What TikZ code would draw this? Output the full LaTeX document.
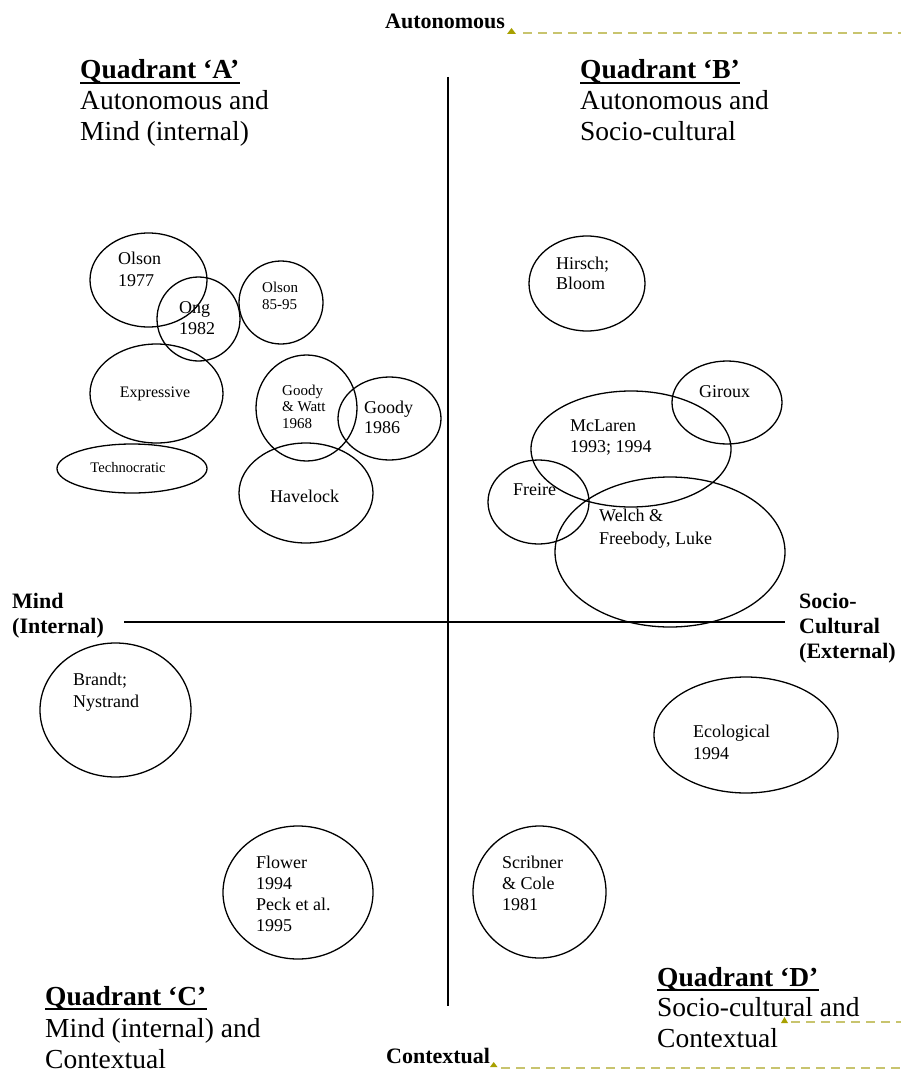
\documentclass[tikz,border=0pt]{standalone}
\usepackage{fontspec}
\setmainfont{Liberation Serif}
\usetikzlibrary{shapes.geometric}
\newcommand\tl[1]{\begin{tabular}[t]{@{}l@{}}#1\end{tabular}}
\newcommand\fs[2]{\fontsize{#1}{#2}\selectfont}
\definecolor{dashcol}{RGB}{200,196,110}
\definecolor{markcol}{RGB}{168,160,0}
\begin{document}
\begin{tikzpicture}[x=1pt,y=-1pt,
  ell/.style={draw=black,line width=1.3pt,ellipse,inner sep=0pt},
  lab/.style={inner sep=0pt,anchor=base west,font=\fs{18}{21}},
  axlab/.style={inner sep=0pt,anchor=base west,font=\fs{22}{25}\bfseries},
  qtitle/.style={inner sep=0pt,anchor=base west,font=\fs{27.5}{31}\bfseries},
  qtext/.style={inner sep=0pt,anchor=base west,font=\fs{27.5}{31}},
  axis/.style={line width=1.4pt},
  cmt/.style={draw=dashcol,line width=1.8pt,dash pattern=on 9pt off 6pt},
  cmark/.style={fill=markcol,draw=none}]
\useasboundingbox (0,0) rectangle (901,1070);

% axes
\coordinate (vtop) at (448,77);
\coordinate (vbot) at (448,1006);
\coordinate (hl) at (124,622);
\coordinate (hr) at (785,622);
\draw[axis] (vtop) -- (vbot);
\draw[axis] (hl) -- (hr);

% axis labels
\node[axlab] (auto) at (385,29) {Autonomous};
\node[axlab] (ctx) at (386,1063) {Contextual};
\node[axlab] (mind) at (12,608) {\tl{Mind\\(Internal)}};
\node[axlab] (socio) at (799,608) {\tl{Socio-\\Cultural\\(External)}};

% comment markers
\fill[cmark] (507,34) -- (516,34) -- (511.5,28) -- cycle;
\coordinate (c1a) at (523,33); \coordinate (c1b) at (901,33);
\draw[cmt] (c1a) -- (c1b);
\fill[cmark] (490,1067) -- (497.5,1067) -- (493.7,1062) -- cycle;
\coordinate (c2a) at (501,1068); \coordinate (c2b) at (901,1068);
\draw[cmt] (c2a) -- (c2b);
\fill[cmark] (781,1023) -- (788,1023) -- (784.5,1017) -- cycle;
\coordinate (c3a) at (791,1022); \coordinate (c3b) at (901,1022);
\draw[cmt] (c3a) -- (c3b);

% quadrant titles
\node[qtitle] (qa) at (80,79) {Quadrant ‘A’};
\node[qtext] (qat) at (80,110) {\tl{Autonomous and\\Mind (internal)}};
\node[qtitle] (qb) at (580,79) {Quadrant ‘B’};
\node[qtext] (qbt) at (580,110) {\tl{Autonomous and\\Socio-cultural}};
\node[qtitle] (qc) at (45,1005) {Quadrant ‘C’};
\node[qtext] (qct) at (45,1037) {\tl{Mind (internal) and\\Contextual}};
\node[qtitle] (qd) at (657,986) {Quadrant ‘D’};
\node[qtext] (qdt) at (657,1016) {\tl{Socio-cultural and\\Contextual}};
\foreach \q in {qa,qb,qc,qd}{
  \draw[line width=1.8pt] ([yshift=-4pt]\q.base west) -- ([yshift=-4pt]\q.base east);
}

% ellipses
\node[ell,minimum width=117pt,minimum height=94pt] (e1) at (148.5,280) {};
\node[ell,minimum width=83pt,minimum height=84pt] (e2) at (198.5,319) {};
\node[ell,minimum width=84pt,minimum height=83pt] (e3) at (281,302.5) {};
\node[ell,minimum width=133pt,minimum height=99pt] (e4) at (156.5,393.5) {};
\node[ell,minimum width=150pt,minimum height=49pt] (e5) at (132,468.5) {};
\node[ell,minimum width=101pt,minimum height=106pt] (e6) at (306.5,408) {};
\node[ell,minimum width=103pt,minimum height=83pt] (e7) at (389.5,418.5) {};
\node[ell,minimum width=134pt,minimum height=100pt] (e8) at (306,493) {};
\node[ell,minimum width=116pt,minimum height=95pt] (e9) at (587,283.5) {};
\node[ell,minimum width=110pt,minimum height=83pt] (e10) at (727,402.5) {};
\node[ell,minimum width=200pt,minimum height=116pt] (e11) at (631,449) {};
\node[ell,minimum width=101pt,minimum height=84pt] (e12) at (538.5,502) {};
\node[ell,minimum width=230pt,minimum height=150pt] (e13) at (670,552) {};
\node[ell,minimum width=151pt,minimum height=134pt] (e14) at (115.5,710) {};
\node[ell,minimum width=184pt,minimum height=116pt] (e15) at (746,735) {};
\node[ell,minimum width=150pt,minimum height=133pt] (e16) at (298,892.5) {};
\node[ell,minimum width=133pt,minimum height=132pt] (e17) at (539.5,892) {};

% ellipse labels
\node[lab,font=\fs{18}{22}] (t1) at (118,264) {\tl{Olson\\1977}};
\node[lab] (t2) at (179,313) {\tl{Ong\\1982}};
\node[lab,font=\fs{15}{17}] (t3) at (262,292) {\tl{Olson\\85-95}};
\node[lab,font=\fs{16}{19},anchor=base] (t4) at (155,397.5) {Expressive};
\node[lab,font=\fs{14.6}{17},anchor=base] (t5) at (128,472) {Technocratic};
\node[lab,font=\fs{15}{16.5}] (t6) at (282,395) {\tl{Goody\\\& Watt\\1968}};
\node[lab,font=\fs{18}{20.5}] (t7) at (364,413) {\tl{Goody\\1986}};
\node[lab] (t8) at (270,502) {Havelock};
\node[lab,font=\fs{18}{20}] (t9) at (556,269) {\tl{Hirsch;\\Bloom}};
\node[lab] (t10) at (699,397) {Giroux};
\node[lab] (t11) at (570,431) {\tl{McLaren\\1993; 1994}};
\node[lab] (t12) at (513,495) {Freire};
\node[lab,font=\fs{18}{23}] (t13) at (599,521) {\tl{Welch \&\\Freebody, Luke}};
\node[lab,font=\fs{18}{22}] (t14) at (73,685) {\tl{Brandt;\\Nystrand}};
\node[lab,font=\fs{18}{22}] (t15) at (693,737) {\tl{Ecological\\1994}};
\node[lab] (t16) at (256,868) {\tl{Flower\\1994\\Peck et al.\\1995}};
\node[lab] (t17) at (502,868) {\tl{Scribner\\\& Cole\\1981}};
\end{tikzpicture}
\end{document}
